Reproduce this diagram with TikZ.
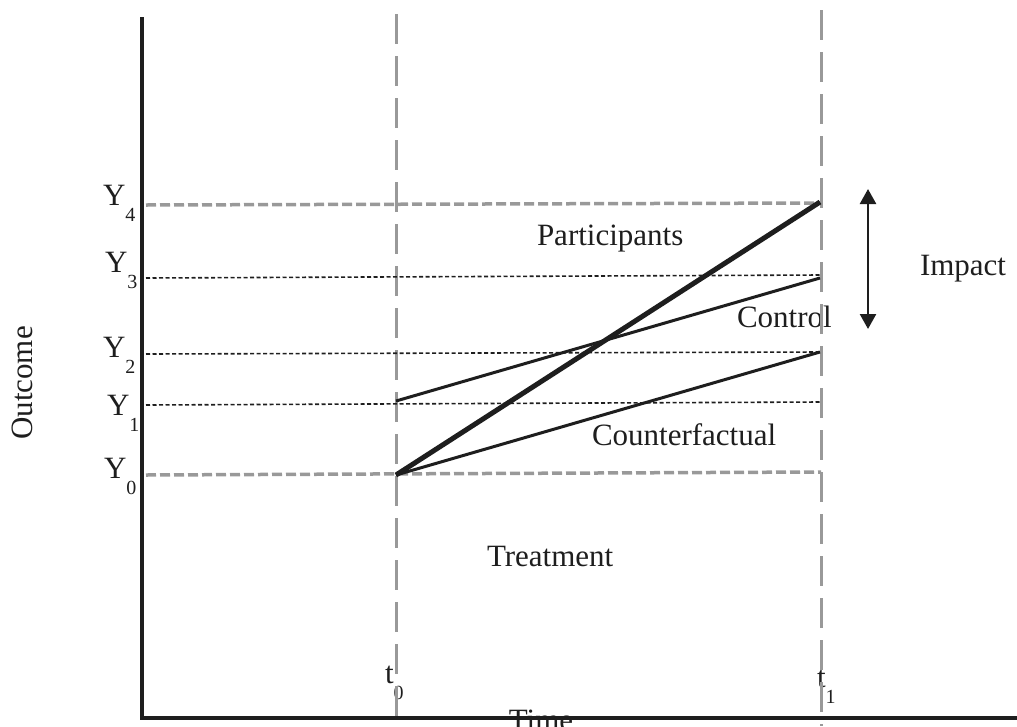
\documentclass[tikz,border=0pt]{standalone}
\usepackage{fontspec}
\setmainfont{Liberation Serif}
\usetikzlibrary{arrows.meta}
\definecolor{guide}{HTML}{999999}
\definecolor{ink}{HTML}{1E1E1E}
\newcommand{\lbl}[2]{#1\raisebox{-16pt}{\fontsize{20}{20}\selectfont #2}}
\begin{document}
\begin{tikzpicture}[x=1pt,y=-1pt,
  every node/.style={inner sep=0pt,outer sep=0pt,text=ink,font=\fontsize{31}{36}\selectfont},
  axis/.style={line width=4pt,ink},
  timeline/.style={line width=3pt,guide,dash pattern=on 30pt off 12pt},
  levelthick/.style={line width=3.5pt,guide,dash pattern=on 10pt off 4pt},
  levelthin/.style={line width=1.6pt,ink,dash pattern=on 4pt off 2.5pt},
  trend/.style={line width=3pt,ink},
  trendbold/.style={line width=5pt,ink},
  impactarrow/.style={line width=2.5pt,ink,{Triangle[length=15pt,width=16pt]}-{Triangle[length=15pt,width=16pt]}}]
\useasboundingbox (0,0) rectangle (1017,726);

% key points
\coordinate (otop) at (142,17);
\coordinate (origin) at (142,718);
\coordinate (xend) at (1017,718);
\coordinate (t0top) at (396,14);
\coordinate (t0bot) at (396,726);
\coordinate (t1top) at (821,10);
\coordinate (t1bot) at (821,726);
\coordinate (y4a) at (146,205);  \coordinate (y4b) at (821,203);
\coordinate (y3a) at (146,278);  \coordinate (y3b) at (821,275);
\coordinate (y2a) at (146,354);  \coordinate (y2b) at (821,352);
\coordinate (y1a) at (146,405);  \coordinate (y1b) at (821,402);
\coordinate (y0a) at (146,475);  \coordinate (y0b) at (821,472);
\coordinate (pstart) at (396,475); \coordinate (pend) at (820,202);
\coordinate (cstart) at (396,401); \coordinate (cend) at (820,278);
\coordinate (fstart) at (396,475); \coordinate (fend) at (820,352);
\coordinate (itop) at (868,189); \coordinate (ibot) at (868,329);

% labels
\node[anchor=base west] (ly4) at (103,205) {\lbl{Y}{4}};
\node[anchor=base west] (ly3) at (105,272) {\lbl{Y}{3}};
\node[anchor=base west] (ly2) at (103,357) {\lbl{Y}{2}};
\node[anchor=base west] (ly1) at (107,415) {\lbl{Y}{1}};
\node[anchor=base west] (ly0) at (104,478) {\lbl{Y}{0}};
\node[anchor=base west] (lt0) at (385,683) {\lbl{t}{0}};
\node[anchor=base west] (lt1) at (817,687) {\lbl{t}{1}};
\node[anchor=base, rotate=90] (outcome) at (32,383) {Outcome};
\node[anchor=base] (time) at (541,730) {Time};
\node[anchor=base west] (part) at (537,245) {Participants};
\node[anchor=base west] (ctrl) at (737,327) {Control};
\node[anchor=base west] (cf) at (592,445) {Counterfactual};
\node[anchor=base west] (treat) at (487,566) {Treatment};
\node[anchor=base west] (imp) at (920,275) {Impact};

% guide lines
\draw[timeline] (t0top) -- (t0bot);
\draw[timeline] (t1top) -- (t1bot);
\draw[levelthick] (y4a) -- (y4b);
\draw[levelthin] (y3a) -- (y3b);
\draw[levelthin] (y2a) -- (y2b);
\draw[levelthin] (y1a) -- (y1b);
\draw[levelthick] (y0a) -- (y0b);

% outcome paths
\draw[trend] (cstart) -- (cend);
\draw[trend] (fstart) -- (fend);
\draw[trendbold] (pstart) -- (pend);

% impact arrow
\draw[impactarrow] (itop) -- (ibot);

% axes
\draw[axis] (otop) -- (origin) -- (xend);
\end{tikzpicture}
\end{document}
